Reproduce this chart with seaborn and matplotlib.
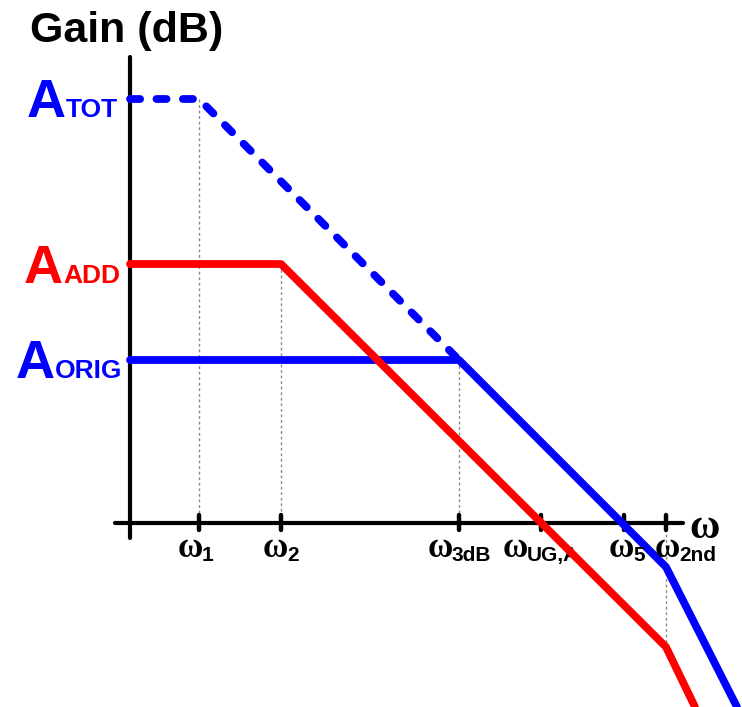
import numpy as np
import pandas as pd
import matplotlib
matplotlib.use("Agg")
import matplotlib.pyplot as plt
import seaborn as sns

sns.set_style("white")
plt.rcParams["text.color"] = "black"

# log-frequency positions (x) and gain levels (y), arbitrary units, origin at axes crossing
tick_names = ["1", "2", "3dB", "UG,A", "5", "2nd"]
tick_pos = [69, 151, 329, 411, 494, 536]

gain_names = ["TOT", "ADD", "ORIG"]
gain_levels = [424, 259, 163]

# asymptotic Bode curves
tot_x = [0, 69, 329]
tot_y = [424, 424, 163]
add_x = [0, 151, 536, 565]
add_y = [259, 259, -124, -184]
orig_x = [0, 329, 536, 607]
orig_y = [163, 163, -44, -184]

# dotted guide lines: (x, y from, y to)
guide_x = [69, 151, 329, 536]
guide_y0 = [424, 259, 163, 0]
guide_y1 = [0, 0, 0, -124]

BLUE = "#0000FF"
RED = "#FF0000"
SANS = "Liberation Sans"
SERIF = "Liberation Serif"

fig = plt.figure(figsize=(7.42, 7.07), dpi=100)
ax = fig.add_axes([0, 0, 1, 1])

# guides
for gx, g0, g1 in zip(guide_x, guide_y0, guide_y1):
    ax.plot([gx, gx], [g0, g1], color="#8a8a8a", lw=1.0, ls=(0, (2, 2)), zorder=1)

# axes
ax.plot([0, 0], [-15, 466], color="black", lw=3, solid_capstyle="round", zorder=2)
ax.plot([-15, 553], [0, 0], color="black", lw=3, solid_capstyle="round", zorder=2)
for tx in tick_pos:
    ax.plot([tx, tx], [8, -7], color="black", lw=3.2, solid_capstyle="round", zorder=2)

# curves
df_tot = pd.DataFrame({"w": tot_x, "gain": tot_y})
df_add = pd.DataFrame({"w": add_x, "gain": add_y})
df_orig = pd.DataFrame({"w": orig_x, "gain": orig_y})

sns.lineplot(data=df_tot, x="w", y="gain", sort=False, estimator=None, ax=ax,
             color=BLUE, lw=5.6, zorder=3)
ax.lines[-1].set_linestyle((0, (1.3, 2.1)))
ax.lines[-1].set_dash_capstyle("round")
ax.lines[-1].set_dash_joinstyle("round")
sns.lineplot(data=df_orig, x="w", y="gain", sort=False, estimator=None, ax=ax,
             color=BLUE, lw=5.6, zorder=3, solid_joinstyle="round")
sns.lineplot(data=df_add, x="w", y="gain", sort=False, estimator=None, ax=ax,
             color=RED, lw=5.6, zorder=4, solid_joinstyle="round")
ax.set_xlim(-130, 612)
ax.set_ylim(-184, 523)
ax.axis("off")

# title of y axis
ax.text(-100, 481, "Gain (dB)", fontsize=31, fontweight="bold", family=SANS,
        color="black", ha="left", va="baseline")

# gain level labels (right aligned against the axis)
gain_cols = [BLUE, RED, BLUE]
gain_right = [-12, -10, -8]
gain_base = [406, 240, 145]
for name, col, xr, yb in zip(gain_names, gain_cols, gain_right, gain_base):
    s = ax.text(xr, yb, name, fontsize=19, fontweight="bold", family=SANS, color=col,
                ha="right", va="baseline")
    ax.annotate("A", xy=(0, yb), xycoords=(s, "data"), fontsize=39, fontweight="bold",
                family=SANS, color=col, ha="right", va="baseline")

# frequency labels
label_left = [48, 133, 298, 373, 479, 525]
for name, xl in zip(tick_names, label_left):
    w = ax.text(xl, -34, "ω", fontsize=25, fontweight="bold", family=SERIF,
                color="black", ha="left", va="baseline")
    ax.annotate(name, xy=(1, -38), xycoords=(w, "data"), xytext=(-1, 0),
                textcoords="offset points", fontsize=15, fontweight="bold",
                family=SANS, color="black", ha="left", va="baseline")

ax.text(559, -15, "ω", fontsize=30, fontweight="bold", family=SERIF,
        color="black", ha="left", va="baseline")

fig.savefig("out.png", dpi=100)
